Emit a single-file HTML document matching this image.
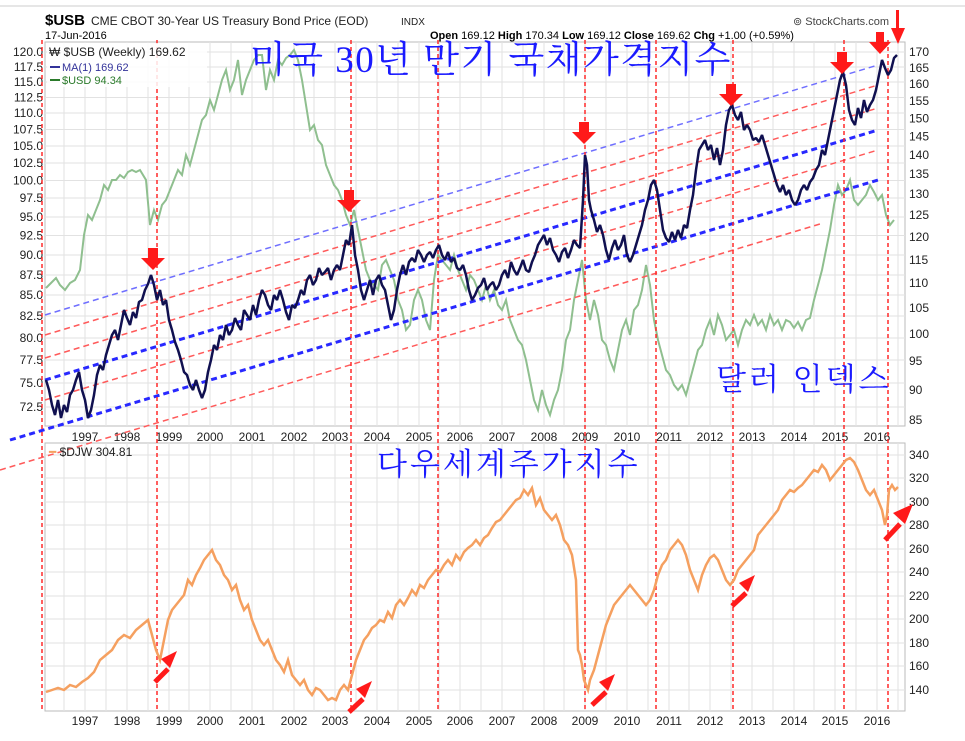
<!DOCTYPE html>
<html><head><meta charset="utf-8"><style>
html,body{margin:0;padding:0;background:#fff;}
svg text{font-family:"Liberation Sans",sans-serif;}
.k{font-family:"Liberation Serif","Noto Serif CJK SC","Noto Sans CJK KR",serif;fill:#1a1aff;}
</style></head><body>
<svg width="965" height="736" viewBox="0 0 965 736" xmlns="http://www.w3.org/2000/svg">
<rect width="965" height="736" fill="#fff"/>
<line x1="0" y1="6" x2="965" y2="6" stroke="#ccc"/>
<text x="45" y="25" font-size="15" font-weight="bold">$USB</text>
<text x="91" y="25" font-size="12" fill="#222">CME CBOT 30-Year US Treasury Bond Price (EOD)</text>
<text x="401" y="25" font-size="10" fill="#222">INDX</text>
<text x="45" y="39" font-size="11">17-Jun-2016</text>
<text x="793" y="25" font-size="11" fill="#444">⊚ StockCharts.com</text>
<text x="430" y="39" font-size="11"><tspan font-weight="bold">Open</tspan> 169.12 <tspan font-weight="bold">High</tspan> 170.34 <tspan font-weight="bold">Low</tspan> 169.12 <tspan font-weight="bold">Close</tspan> 169.62 <tspan font-weight="bold">Chg</tspan> +1.00 (+0.59%)</text>
<g stroke="#ddd" stroke-width="1">
<rect x="45" y="42" width="860" height="384" fill="#fff" stroke="#bbb"/>
<rect x="45" y="443" width="860" height="268" fill="#fff" stroke="#bbb"/>
</g>
<g stroke="#e2e2e2" stroke-width="1">
<path d="M64 42V426M85 42V426M106 42V426M127 42V426M148 42V426M169 42V426M189 42V426M210 42V426M231 42V426M252 42V426M273 42V426M294 42V426M314 42V426M335 42V426M356 42V426M377 42V426M398 42V426M419 42V426M439 42V426M460 42V426M481 42V426M502 42V426M523 42V426M544 42V426M564 42V426M585 42V426M606 42V426M627 42V426M648 42V426M669 42V426M689 42V426M710 42V426M731 42V426M752 42V426M773 42V426M794 42V426M814 42V426M835 42V426M856 42V426M877 42V426M898 42V426"/>
<path d="M64 443V711M85 443V711M106 443V711M127 443V711M148 443V711M169 443V711M189 443V711M210 443V711M231 443V711M252 443V711M273 443V711M294 443V711M314 443V711M335 443V711M356 443V711M377 443V711M398 443V711M419 443V711M439 443V711M460 443V711M481 443V711M502 443V711M523 443V711M544 443V711M564 443V711M585 443V711M606 443V711M627 443V711M648 443V711M669 443V711M689 443V711M710 443V711M731 443V711M752 443V711M773 443V711M794 443V711M814 443V711M835 443V711M856 443V711M877 443V711M898 443V711"/>
<path d="M45 52H905M45 67H905M45 82H905M45 97.5H905M45 113H905M45 129.5H905M45 146H905M45 163H905M45 180.5H905M45 198H905M45 217H905M45 235.5H905M45 255H905M45 275H905M45 295H905M45 316H905M45 338H905M45 360H905M45 383H905M45 407H905"/>
<path d="M45 455H905M45 478H905M45 502H905M45 525H905M45 549H905M45 572H905M45 596H905M45 619H905M45 643H905M45 666H905M45 690H905"/>
</g>
<g font-size="12" text-anchor="end" fill="#222">
<text x="43" y="56">120.0</text><text x="43" y="71">117.5</text><text x="43" y="86">115.0</text><text x="43" y="101.5">112.5</text><text x="43" y="117">110.0</text><text x="43" y="133.5">107.5</text><text x="43" y="150">105.0</text><text x="43" y="167">102.5</text><text x="43" y="184.5">100.0</text><text x="43" y="202">97.5</text><text x="43" y="221">95.0</text><text x="43" y="239.5">92.5</text><text x="43" y="259">90.0</text><text x="43" y="279">87.5</text><text x="43" y="299">85.0</text><text x="43" y="320">82.5</text><text x="43" y="342">80.0</text><text x="43" y="364">77.5</text><text x="43" y="387">75.0</text><text x="43" y="411">72.5</text>
</g>
<g font-size="12" fill="#222">
<text x="909" y="56">170</text><text x="909" y="72">165</text><text x="909" y="88">160</text><text x="909" y="105">155</text><text x="909" y="122.5">150</text><text x="909" y="140.5">145</text><text x="909" y="159">140</text><text x="909" y="178">135</text><text x="909" y="198">130</text><text x="909" y="219">125</text><text x="909" y="241">120</text><text x="909" y="264">115</text><text x="909" y="287">110</text><text x="909" y="312">105</text><text x="909" y="338">100</text><text x="909" y="365">95</text><text x="909" y="394">90</text><text x="909" y="424">85</text>
<text x="909" y="459">340</text><text x="909" y="482">320</text><text x="909" y="506">300</text><text x="909" y="529">280</text><text x="909" y="553">260</text><text x="909" y="576">240</text><text x="909" y="600">220</text><text x="909" y="623">200</text><text x="909" y="647">180</text><text x="909" y="670">160</text><text x="909" y="694">140</text>
</g>
<g font-size="12" fill="#222" text-anchor="middle">
<text x="85" y="441">1997</text><text x="127" y="441">1998</text><text x="169" y="441">1999</text><text x="210" y="441">2000</text><text x="252" y="441">2001</text><text x="294" y="441">2002</text><text x="335" y="441">2003</text><text x="377" y="441">2004</text><text x="419" y="441">2005</text><text x="460" y="441">2006</text><text x="502" y="441">2007</text><text x="544" y="441">2008</text><text x="585" y="441">2009</text><text x="627" y="441">2010</text><text x="669" y="441">2011</text><text x="710" y="441">2012</text><text x="752" y="441">2013</text><text x="794" y="441">2014</text><text x="835" y="441">2015</text><text x="877" y="441">2016</text>
<text x="85" y="725">1997</text><text x="127" y="725">1998</text><text x="169" y="725">1999</text><text x="210" y="725">2000</text><text x="252" y="725">2001</text><text x="294" y="725">2002</text><text x="335" y="725">2003</text><text x="377" y="725">2004</text><text x="419" y="725">2005</text><text x="460" y="725">2006</text><text x="502" y="725">2007</text><text x="544" y="725">2008</text><text x="585" y="725">2009</text><text x="627" y="725">2010</text><text x="669" y="725">2011</text><text x="710" y="725">2012</text><text x="752" y="725">2013</text><text x="794" y="725">2014</text><text x="835" y="725">2015</text><text x="877" y="725">2016</text>
</g>
<polyline fill="none" stroke="#8fbf8f" stroke-width="2" points="46,288 52,282 56,278 60,285 65,290 70,283 75,280 80,270 84,235 88,215 92,220 96,210 100,200 104,185 108,190 112,180 116,180 120,175 124,178 128,172 132,170 136,172 140,170 146,180 150,225 154,210 158,220 162,205 166,200 170,190 174,180 178,170 182,175 186,155 190,165 194,150 198,135 202,120 206,115 210,100 214,110 218,95 222,80 226,70 230,90 234,80 238,60 242,95 246,80 250,70 254,60 258,55 262,55 266,90 270,70 274,80 278,60 282,65 286,58 290,55 294,50 298,60 302,80 306,105 310,130 314,125 318,140 322,145 326,165 330,175 334,185 338,190 342,200 346,215 350,225 354,210 358,230 362,250 366,270 370,280 374,285 378,290 382,265 386,260 390,270 394,280 398,300 402,310 406,330 410,325 414,300 418,290 422,300 426,320 430,330 434,280 438,255 442,260 446,265 450,270 454,255 458,270 462,280 466,290 470,275 474,280 478,290 482,300 486,285 490,300 494,290 498,305 502,310 506,300 510,320 514,330 518,340 522,345 526,360 530,380 534,400 538,410 542,390 546,405 550,415 554,400 558,390 562,370 566,340 570,330 574,300 578,280 582,260 586,300 590,320 594,300 598,315 602,340 606,345 610,360 614,370 618,350 622,330 626,320 630,335 634,310 638,305 642,290 646,265 650,285 654,320 658,340 662,355 666,370 670,375 674,385 678,390 682,385 686,395 690,380 694,365 698,350 702,345 706,330 710,320 714,335 718,315 722,325 726,340 730,335 734,330 738,345 742,330 746,320 750,325 754,315 758,325 762,320 766,330 770,315 774,325 778,320 782,330 786,320 790,322 794,328 798,322 802,330 806,320 810,318 814,300 818,285 822,270 826,250 830,230 834,205 838,185 842,195 846,190 850,180 854,200 858,205 862,200 866,195 870,185 874,192 878,200 882,195 886,215 890,225 894,220"/>
<g fill="none" stroke-dasharray="6,4">
<line x1="45" y1="315" x2="878" y2="65" stroke="#6f6fff" stroke-width="1.5"/>
<line x1="45" y1="335" x2="878" y2="85" stroke="#ff5a5a" stroke-width="1.5"/>
<line x1="45" y1="358" x2="878" y2="108" stroke="#ff5a5a" stroke-width="1.5"/>
<line x1="45" y1="380" x2="878" y2="130" stroke="#2828ff" stroke-width="3"/>
<line x1="45" y1="400" x2="878" y2="150" stroke="#ff5a5a" stroke-width="1.5"/>
<line x1="10" y1="440" x2="878" y2="180" stroke="#2828ff" stroke-width="3"/>
<line x1="0" y1="470" x2="820" y2="224" stroke="#ff5a5a" stroke-width="1.5"/>
</g>
<g stroke="#ff2a2a" stroke-width="1.5" stroke-dasharray="4,3">
<line x1="42" y1="40" x2="42" y2="711"/><line x1="157" y1="40" x2="157" y2="711"/><line x1="351" y1="40" x2="351" y2="711"/><line x1="438" y1="40" x2="438" y2="711"/><line x1="585" y1="40" x2="585" y2="711"/><line x1="656" y1="40" x2="656" y2="711"/><line x1="733" y1="40" x2="733" y2="711"/><line x1="844" y1="40" x2="844" y2="711"/><line x1="888" y1="40" x2="888" y2="711"/>
</g>
<polyline fill="none" stroke="#101050" stroke-width="2.5" stroke-linejoin="bevel" points="46,380 49,390 52,405 55,415 58,400 61,418 64,405 67,412 70,395 73,390 76,380 79,372 82,390 85,400 88,418 91,410 94,395 97,375 100,365 103,370 106,355 109,345 112,335 115,330 118,340 121,325 124,310 127,318 130,325 133,312 136,318 139,302 142,300 145,290 148,284 151,275 154,285 157,300 160,290 163,305 166,300 169,320 172,330 175,342 178,350 181,360 184,372 187,375 190,385 193,390 196,380 199,390 202,398 205,390 208,372 211,360 214,345 217,350 220,335 223,340 226,325 229,335 232,330 235,318 238,325 241,330 244,310 247,315 250,320 253,305 256,315 259,300 262,290 265,295 268,305 271,310 274,295 277,300 280,290 283,300 286,312 289,320 292,305 295,308 298,300 301,290 304,295 307,280 310,275 313,285 316,280 319,268 322,275 325,272 328,268 331,280 334,270 337,265 340,270 343,255 346,240 349,245 352,225 355,255 358,270 361,290 364,300 367,290 370,280 373,295 376,280 379,275 382,285 385,290 388,305 391,320 394,310 397,290 400,275 403,265 406,275 409,262 412,258 415,262 418,250 421,255 424,262 427,255 430,252 433,258 436,250 439,245 442,255 445,260 448,252 451,262 454,258 457,268 460,270 463,265 466,275 469,290 472,300 475,295 478,288 481,285 484,278 487,290 490,285 493,282 496,290 499,285 502,275 505,270 508,278 511,262 514,270 517,275 520,268 523,260 526,270 529,272 532,262 535,255 538,245 541,240 544,235 547,245 550,238 553,250 556,255 559,262 562,252 565,248 568,258 571,250 574,240 577,245 580,248 583,200 585,155 587,165 589,200 591,210 594,220 597,232 600,225 603,235 606,250 609,260 612,248 615,240 618,250 621,245 624,235 627,255 630,262 633,255 636,245 639,235 642,225 645,210 648,200 651,185 654,180 657,190 660,210 663,230 666,238 669,242 672,232 675,240 678,230 681,238 684,225 687,228 690,210 693,195 696,170 699,150 702,145 705,140 708,150 711,145 714,160 717,148 720,165 723,150 726,125 729,110 732,105 735,115 738,120 741,112 744,130 747,125 750,130 753,140 756,138 759,142 762,135 765,145 768,155 771,165 774,175 777,185 780,192 783,185 786,195 789,190 792,200 795,205 798,200 801,190 804,185 807,190 810,182 813,178 816,170 819,165 822,150 825,155 828,140 831,125 834,110 837,95 840,80 843,72 846,85 849,110 852,120 855,125 858,108 861,118 864,100 867,112 870,105 873,100 876,90 879,75 882,60 885,68 888,75 891,70 894,58 897,55"/>
<rect x="47" y="43" width="160" height="44" fill="#fff" opacity="0.85"/>
<text x="49" y="56" font-size="12" font-family="Liberation Mono,monospace" fill="#222">₩ $USB (Weekly) 169.62</text>
<line x1="50" y1="67" x2="60" y2="67" stroke="#33339a" stroke-width="2"/>
<text x="62" y="71" font-size="11" fill="#33339a">MA(1) 169.62</text>
<line x1="50" y1="80" x2="60" y2="80" stroke="#2a7a2a" stroke-width="2"/>
<text x="62" y="84" font-size="11" fill="#2a7a2a">$USD 94.34</text>
<polyline fill="none" stroke="#f5a060" stroke-width="2.5" points="46,692 52,690 58,688 64,690 70,685 76,687 82,682 88,678 94,672 100,660 106,655 112,650 118,640 124,635 130,638 136,630 142,625 148,620 152,635 156,650 160,660 164,640 168,620 172,610 176,605 180,600 184,595 188,580 192,585 196,575 200,568 204,560 208,555 212,550 216,560 220,565 224,575 228,580 232,590 236,585 240,600 244,610 248,605 252,620 256,630 260,640 264,645 268,640 272,650 276,660 280,665 284,672 288,660 292,675 296,680 300,685 304,680 308,690 312,695 316,688 320,690 324,695 328,700 332,698 336,700 340,690 344,685 348,690 352,675 356,660 360,650 364,640 368,635 372,628 376,625 380,620 384,622 388,612 392,618 396,605 400,600 404,605 408,598 412,590 416,595 420,585 424,588 428,580 432,575 436,570 440,572 444,565 448,560 452,565 456,555 460,560 464,552 468,548 472,545 476,540 480,545 484,538 488,535 492,528 496,522 500,520 504,515 508,510 512,505 516,500 520,498 524,490 528,495 532,488 536,505 540,498 544,510 548,515 552,520 556,515 560,525 564,540 568,545 572,555 576,580 578,650 580,655 582,665 584,680 588,690 590,680 594,670 598,655 602,640 606,625 610,615 614,605 618,600 622,595 626,590 630,585 634,590 638,595 642,600 646,605 650,600 654,590 658,575 662,565 666,560 670,550 674,545 678,540 682,545 686,555 690,570 694,580 698,590 702,575 706,565 710,558 714,555 718,560 722,570 726,580 730,585 734,580 738,570 742,565 746,560 750,555 754,550 758,535 762,530 766,525 770,520 774,515 778,510 782,500 786,495 790,490 794,492 798,488 802,485 806,480 810,475 814,470 818,472 822,465 826,470 830,480 834,475 838,470 842,465 846,460 850,458 854,462 858,470 862,480 866,490 870,495 874,490 878,500 882,510 885,525 887,515 889,490 892,485 895,490 898,487"/>
<text x="49" y="456" font-size="12" font-family="Liberation Mono,monospace" fill="#222"><tspan fill="#f5a15f">━</tspan> $DJW 304.81</text>
<text class="k" x="250" y="72" font-size="37" letter-spacing="1.5">미국 30년 만기 국채가격지수</text>
<text class="k" x="716" y="390" font-size="31" letter-spacing="3">달러 인덱스</text>
<text class="k" x="377" y="475" font-size="31" letter-spacing="3">다우세계주가지수</text>
<g fill="#ff1a1a">
<path d="M148 248h10v10h7l-12 12-12-12h7z"/>
<path d="M344 190h10v10h7l-12 12-12-12h7z"/>
<path d="M579 122h10v10h7l-12 12-12-12h7z"/>
<path d="M726 84h10v10h7l-12 12-12-12h7z"/>
<path d="M837 52h10v10h7l-12 12-12-12h7z"/>
<path d="M876 32h8v10h7l-11 12-11-12h7z"/>
<path d="M896 10h3v18h6l-7 16-7-16h5z"/>
</g>
<g stroke="#ff1a1a" stroke-width="5" fill="#ff1a1a">
<line x1="155" y1="682" x2="168" y2="669"/><path d="M161 659l16-8-7 17z" stroke="none"/>
<line x1="349" y1="712" x2="363" y2="699"/><path d="M356 689l16-8-7 17z" stroke="none"/>
<line x1="592" y1="705" x2="606" y2="692"/><path d="M599 682l16-8-7 17z" stroke="none"/>
<line x1="732" y1="606" x2="746" y2="593"/><path d="M739 583l16-8-7 17z" stroke="none"/>
<line x1="885" y1="540" x2="900" y2="524"/><path d="M893 513l20-9-8 20z" stroke="none"/>
</g>
</svg>
</body></html>
